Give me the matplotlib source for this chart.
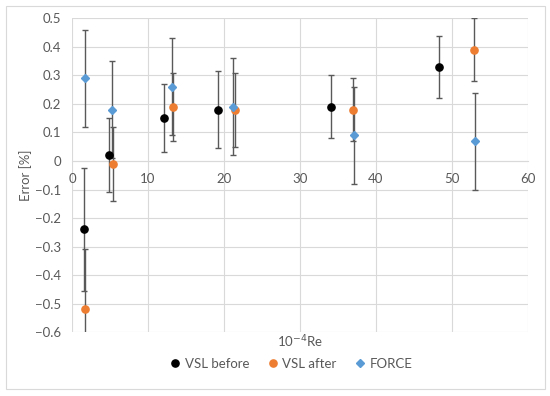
import numpy as np
import matplotlib.pyplot as plt
from matplotlib.patches import Rectangle
from matplotlib.lines import Line2D

plt.rcParams['font.family'] = ['Lato', 'DejaVu Sans']

# VSL before
x_before = [1.6, 4.9, 12.1, 19.2, 34.1, 48.3]
y_before = [-0.24, 0.02, 0.15, 0.18, 0.19, 0.33]
e_before = [0.215, 0.13, 0.12, 0.135, 0.11, 0.11]

# VSL after
x_after = [1.7, 5.4, 13.3, 21.4, 37.0, 52.9]
y_after = [-0.52, -0.01, 0.19, 0.18, 0.18, 0.39]
e_after = [0.21, 0.13, 0.12, 0.13, 0.11, 0.11]

# FORCE
x_force = [1.7, 5.3, 13.2, 21.2, 37.1, 53.0]
y_force = [0.29, 0.18, 0.26, 0.19, 0.09, 0.07]
e_force = [0.17, 0.17, 0.17, 0.17, 0.17, 0.17]

text_col = '#595959'
grid_col = '#d9d9d9'
err_col = '#595959'

fig = plt.figure(figsize=(5.5, 3.96), dpi=100)
ax = fig.add_axes([0.1309, 0.1616, 0.8291, 0.7917])

# outer chart border
fig.patches.append(Rectangle((0.01, 0.0177), 0.981, 0.967, transform=fig.transFigure,
                             fill=False, edgecolor='#d9d9d9', linewidth=0.8))

series = [
    (x_before, y_before, e_before, 'o', 'black', 'VSL before', 5.2),
    (x_after, y_after, e_after, 'o', '#ED7D31', 'VSL after', 5.2),
    (x_force, y_force, e_force, 'D', '#5B9BD5', 'FORCE', 4.0),
]
handles = []
for xs, ys, es, m, c, lab, ms in series:
    ax.errorbar(xs, ys, yerr=es, fmt=m, color=c, markersize=ms, ecolor=err_col,
                elinewidth=1.0, capsize=2, capthick=1.0, zorder=3)
    handles.append(Line2D([], [], linestyle='none', marker=m, color=c,
                          markersize=ms, label=lab))

ax.set_xlim(0, 60)
ax.set_ylim(-0.6, 0.5)
ax.set_xticks(np.arange(0, 61, 10))
ax.set_yticks(np.round(np.arange(-0.6, 0.51, 0.1), 1))
ax.set_yticklabels(['\u22120.6', '\u22120.5', '\u22120.4', '\u22120.3', '\u22120.2', '\u22120.1',
                    '0', '0.1', '0.2', '0.3', '0.4', '0.5'])
ax.grid(True, color=grid_col, linewidth=0.8)
ax.set_axisbelow(True)
for s in ['top', 'right', 'left']:
    ax.spines[s].set_visible(False)
ax.spines['bottom'].set_position(('data', 0))
ax.spines['bottom'].set_color(grid_col)
ax.spines['bottom'].set_linewidth(0.8)
ax.tick_params(axis='both', length=0, labelsize=9.5, labelcolor=text_col)
ax.tick_params(axis='x', pad=9)
ax.tick_params(axis='y', pad=8)

fig.text(0.5455, 0.136, '10$^{-4}$Re', ha='center', va='center', fontsize=9.5, color=text_col)
ax.set_ylabel('Error [%]', fontsize=9.5, color=text_col, labelpad=2)

ax.legend(handles=handles, loc='center', bbox_to_anchor=(0.527, 0.081),
          bbox_transform=fig.transFigure, ncol=3, frameon=False, fontsize=9.5,
          labelcolor=text_col, handletextpad=0.1, columnspacing=1.2, handlelength=1.2)

fig.savefig('out.png', dpi=100)
